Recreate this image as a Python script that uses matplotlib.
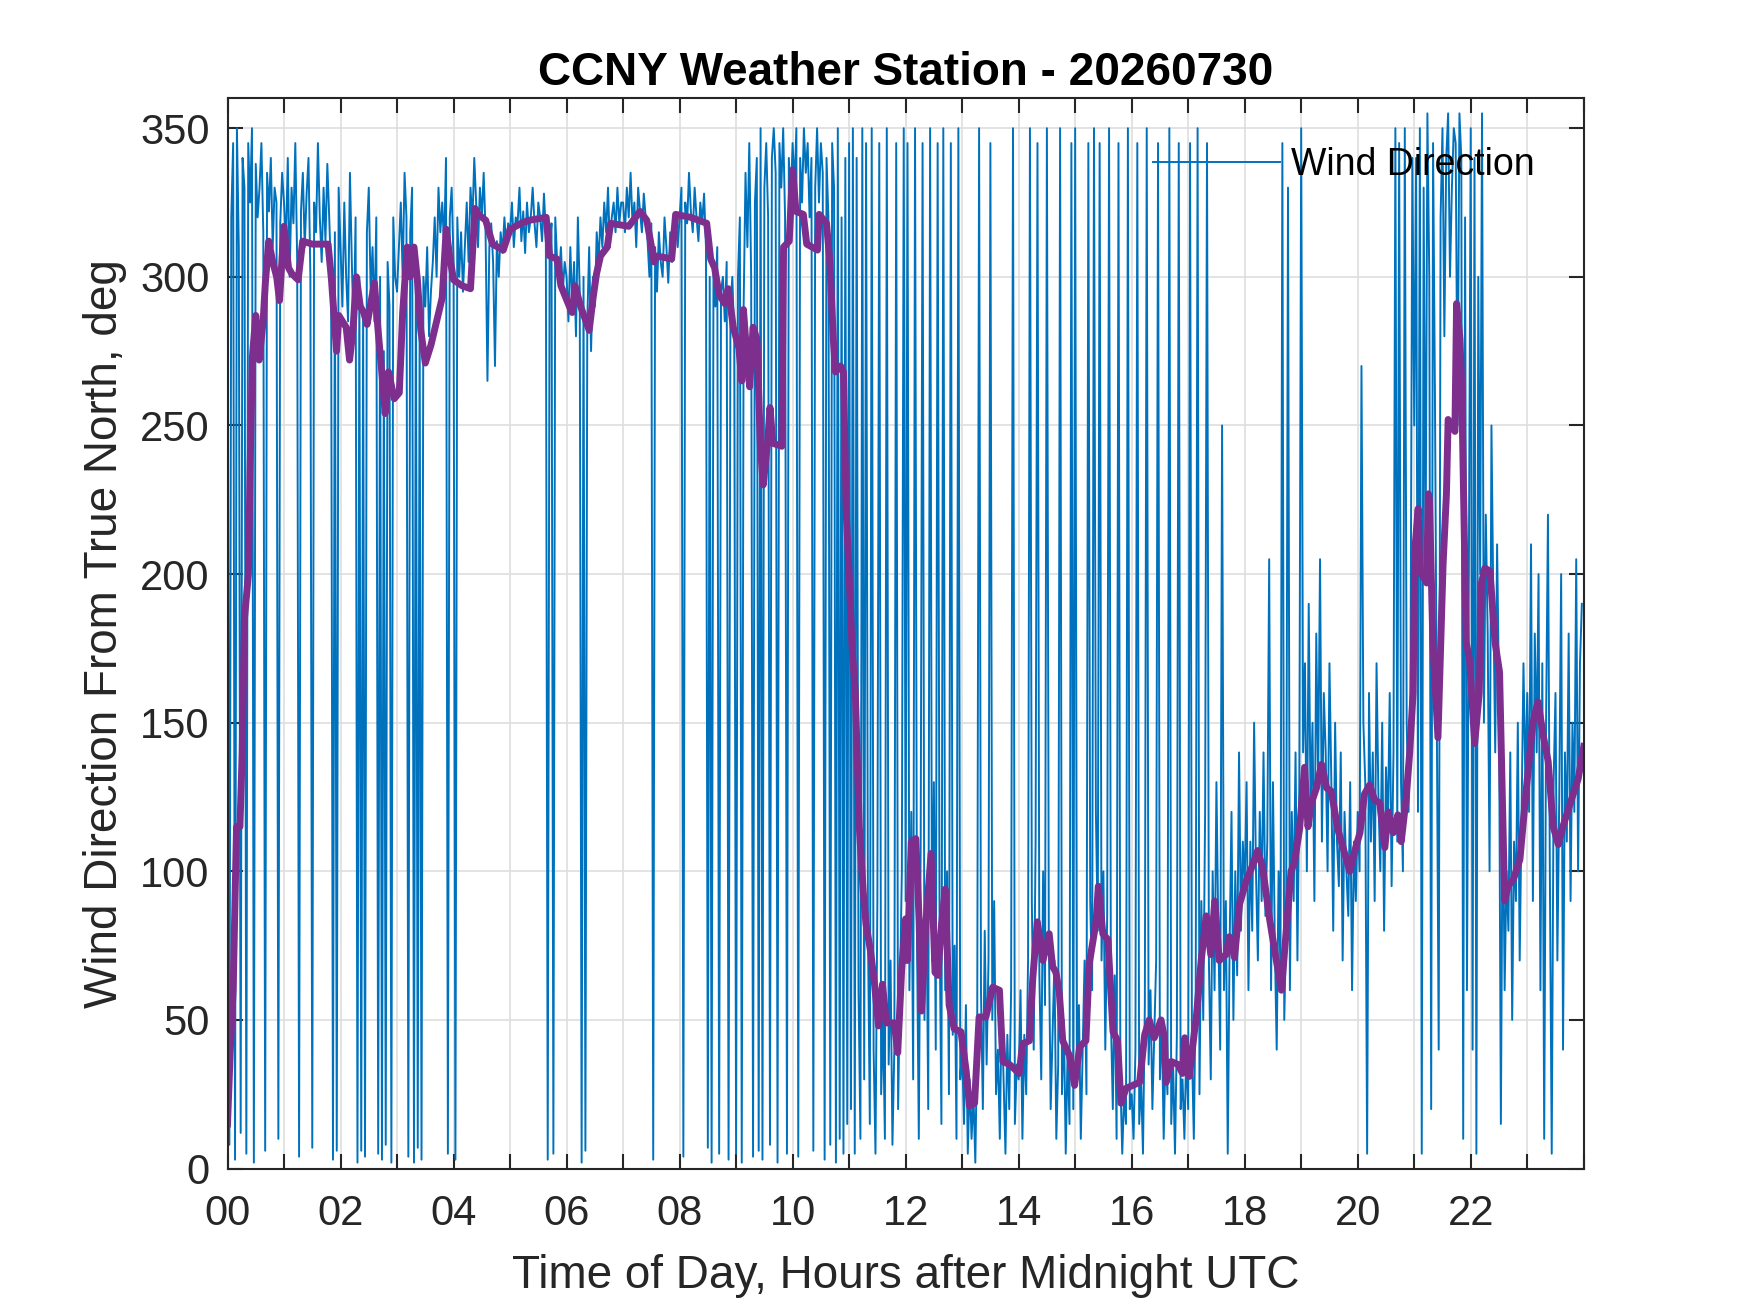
#Import necessary modules
import numpy as np
import matplotlib
matplotlib.use('Agg')
import matplotlib.pyplot as plt

plt.rcParams['font.family'] = ['Liberation Sans', 'DejaVu Sans']

#Wind direction samples, every 2 minutes (one line per hour, 00 to 23)
wind_dir = [
    335, 8, 320, 345, 3, 350, 310, 12, 340, 330, 5, 345, 325, 350, 2, 338, 320, 330, 345, 315, 6, 335, 322, 340, 310, 330, 325, 10, 318, 335,
    325, 310, 340, 300, 330, 318, 345, 305, 4, 322, 335, 310, 328, 340, 300, 7, 325, 315, 345, 320, 305, 330, 312, 338, 320, 300, 3, 315, 6, 330,
    310, 290, 325, 300, 285, 335, 305, 280, 320, 2, 300, 6, 290, 4, 315, 330, 295, 310, 285, 320, 5, 300, 3, 275, 8, 305, 290, 2, 320, 300,
    295, 310, 325, 300, 335, 320, 4, 315, 330, 2, 305, 7, 285, 3, 300, 290, 310, 280, 295, 305, 320, 300, 330, 315, 325, 310, 340, 5, 320, 330,
    305, 3, 320, 300, 315, 295, 310, 325, 305, 330, 318, 340, 325, 310, 330, 320, 335, 315, 265, 310, 318, 305, 270, 312, 300, 315, 308, 320, 310, 318,
    315, 325, 310, 320, 318, 330, 312, 322, 308, 325, 315, 320, 330, 318, 310, 325, 320, 312, 328, 315, 3, 310, 318, 5, 320, 305, 300, 310, 295, 305,
    300, 285, 310, 290, 305, 280, 320, 295, 2, 300, 6, 285, 310, 275, 300, 290, 315, 305, 320, 310, 325, 315, 330, 310, 320, 325, 315, 330, 318, 325,
    325, 315, 330, 320, 335, 318, 325, 310, 330, 322, 315, 328, 320, 312, 300, 318, 3, 310, 295, 315, 305, 300, 320, 310, 298, 315, 305, 312, 320, 310,
    320, 330, 4, 325, 318, 335, 322, 315, 330, 320, 312, 325, 318, 328, 310, 7, 300, 2, 305, 290, 310, 5, 295, 300, 285, 305, 3, 290, 300, 280,
    5, 300, 320, 2, 290, 335, 310, 345, 300, 4, 325, 340, 6, 350, 3, 330, 345, 320, 8, 340, 350, 335, 2, 345, 330, 350, 320, 5, 340, 325,
    345, 330, 350, 4, 340, 325, 350, 335, 345, 320, 340, 6, 330, 350, 325, 345, 335, 3, 340, 320, 8, 345, 330, 2, 350, 10, 320, 5, 340, 15,
    345, 20, 350, 5, 340, 60, 10, 350, 30, 345, 80, 15, 350, 40, 5, 90, 345, 25, 50, 10, 350, 35, 70, 8, 40, 345, 20, 60, 100, 350,
    90, 345, 60, 120, 30, 350, 80, 10, 110, 345, 50, 95, 20, 350, 70, 130, 40, 345, 85, 15, 350, 60, 100, 25, 345, 45, 75, 10, 350, 30,
    40, 15, 55, 5, 30, 10, 25, 2, 45, 350, 60, 20, 80, 35, 70, 345, 50, 90, 25, 40, 10, 55, 30, 5, 45, 20, 60, 350, 15, 35,
    30, 60, 10, 45, 25, 70, 350, 90, 40, 110, 345, 65, 30, 100, 55, 350, 80, 20, 45, 70, 10, 35, 350, 25, 50, 5, 40, 15, 345, 20,
    350, 30, 55, 10, 40, 70, 25, 345, 90, 60, 350, 120, 80, 345, 70, 100, 40, 85, 350, 50, 20, 65, 10, 345, 30, 5, 25, 15, 350, 20,
    25, 10, 40, 345, 15, 30, 5, 55, 350, 35, 60, 20, 45, 70, 345, 30, 50, 10, 40, 25, 350, 15, 35, 5, 45, 345, 20, 30, 10, 40,
    20, 345, 40, 10, 60, 350, 25, 90, 50, 120, 345, 70, 30, 100, 60, 130, 80, 40, 250, 60, 90, 5, 75, 120, 50, 100, 65, 140, 80, 110,
    95, 130, 60, 110, 80, 150, 100, 70, 120, 90, 140, 85, 110, 205, 60, 130, 75, 40, 100, 65, 345, 50, 80, 330, 60, 120, 90, 140, 70, 130,
    350, 140, 170, 100, 190, 120, 150, 90, 180, 130, 205, 110, 160, 140, 100, 170, 130, 80, 150, 110, 95, 140, 70, 120, 100, 85, 130, 60, 110, 90,
    120, 100, 270, 150, 130, 5, 160, 110, 140, 90, 170, 125, 100, 150, 80, 135, 115, 160, 95, 140, 350, 110, 345, 130, 100, 350, 150, 120, 160, 340,
    250, 340, 120, 350, 5, 330, 200, 355, 300, 20, 345, 260, 150, 40, 320, 350, 280, 340, 355, 300, 330, 350, 345, 250, 355, 340, 10, 320, 60, 200,
    350, 40, 340, 5, 300, 200, 355, 150, 220, 180, 100, 250, 190, 140, 210, 160, 15, 130, 60, 100, 80, 140, 50, 110, 90, 150, 70, 120, 170, 130,
    160, 120, 210, 90, 180, 140, 200, 60, 170, 10, 150, 220, 100, 5, 130, 160, 70, 125, 200, 40, 140, 110, 180, 90, 150, 120, 205, 100, 170, 190,
]

#Smoothed wind direction (purple line), hour and value pairs
avg_hour = [
    0.00, 0.05, 0.10, 0.16, 0.22, 0.26, 0.30, 0.37, 0.40, 0.44, 0.50, 0.56, 0.63, 0.67, 0.73, 0.80, 0.87, 0.92,
    1.00, 1.08, 1.14, 1.25, 1.33, 1.50, 1.78, 1.84, 1.93, 1.97,
    2.10, 2.16, 2.22, 2.28, 2.35, 2.41, 2.47, 2.60, 2.66, 2.73, 2.79, 2.85, 2.95,
    3.04, 3.10, 3.18, 3.23, 3.30, 3.36, 3.42, 3.50, 3.60, 3.70, 3.80, 3.87, 3.93,
    4.00, 4.15, 4.30, 4.38, 4.44, 4.57, 4.69, 4.88,
    5.00, 5.20, 5.33, 5.64, 5.70, 5.83, 5.90,
    6.05, 6.10, 6.15, 6.25, 6.40, 6.47, 6.53, 6.60, 6.72, 6.78,
    7.10, 7.30, 7.42, 7.55, 7.60, 7.86, 7.93,
    8.20, 8.48, 8.55, 8.62, 8.70, 8.80, 8.86, 8.95,
    9.05, 9.10, 9.13, 9.18, 9.24, 9.30, 9.37, 9.43, 9.48, 9.56, 9.60, 9.65, 9.81, 9.84, 9.94,
    10.00, 10.06, 10.19, 10.25, 10.44, 10.47, 10.60, 10.66, 10.72, 10.76, 10.85, 10.90, 10.95,
    11.00, 11.05, 11.11, 11.18, 11.25, 11.30, 11.38, 11.45, 11.52, 11.59, 11.66, 11.80, 11.86, 11.93,
    12.00, 12.03, 12.10, 12.18, 12.24, 12.28, 12.36, 12.45, 12.52, 12.57, 12.63, 12.70, 12.77, 12.86, 12.98,
    13.07, 13.13, 13.22, 13.30, 13.42, 13.54, 13.66, 13.72, 13.84,
    14.01, 14.07, 14.19, 14.25, 14.33, 14.43, 14.54, 14.60, 14.66, 14.72, 14.78, 14.90, 14.99,
    15.08, 15.19, 15.25, 15.37, 15.41, 15.49, 15.58, 15.67, 15.75, 15.81, 15.90,
    16.02, 16.14, 16.23, 16.31, 16.40, 16.52, 16.58, 16.61, 16.70, 16.82, 16.90, 16.94,
    17.02, 17.11, 17.14, 17.23, 17.32, 17.40, 17.47, 17.55, 17.67, 17.73, 17.82, 17.91,
    18.03, 18.14, 18.23, 18.32, 18.44, 18.56, 18.65, 18.73, 18.82, 18.88, 18.97,
    19.06, 19.12, 19.18, 19.27, 19.36, 19.45, 19.53, 19.65, 19.74, 19.86, 19.95,
    20.04, 20.12, 20.21, 20.30, 20.39, 20.48, 20.54, 20.63, 20.71, 20.77, 20.86, 20.92, 20.98,
    21.01, 21.07, 21.10, 21.22, 21.25, 21.27, 21.33, 21.42, 21.51, 21.57, 21.60, 21.72, 21.75, 21.81, 21.84, 21.92, 21.98,
    22.07, 22.15, 22.19, 22.25, 22.34, 22.43, 22.51, 22.60, 22.66, 22.75, 22.87, 22.99,
    23.10, 23.19, 23.28, 23.37, 23.46, 23.55, 23.63, 23.78, 23.90, 24.00,
]
avg_deg = [
    15, 40, 60, 115, 115, 140, 185, 200, 235, 273, 287, 272, 285, 298, 312, 305, 300, 292,
    317, 303, 301, 299, 312, 311, 311, 299, 275, 287,
    283, 272, 282, 300, 290, 288, 284, 298, 283, 268, 254, 268, 259,
    261, 288, 310, 300, 310, 299, 282, 271, 277, 285, 293, 316, 307,
    299, 297, 296, 323, 321, 319, 311, 309,
    316, 318, 319, 320, 307, 306, 297,
    290, 288, 297, 290, 282, 293, 301, 307, 310, 318,
    317, 322, 319, 305, 307, 306, 321,
    320, 318, 306, 303, 294, 291, 296, 283,
    276, 265, 289, 276, 263, 283, 279, 243, 230, 245, 256, 244, 243, 310, 312,
    336, 322, 321, 311, 309, 321, 318, 305, 279, 268, 270, 268, 220,
    200, 176, 160, 115, 93, 82, 73, 62, 48, 62, 49, 49, 39, 67,
    84, 70, 110, 111, 83, 53, 83, 106, 66, 65, 81, 94, 55, 47, 46,
    33, 21, 22, 51, 51, 61, 60, 36, 35,
    32, 42, 43, 64, 83, 70, 79, 68, 66, 59, 43, 38, 28,
    41, 43, 69, 83, 95, 79, 77, 46, 43, 22, 27,
    28, 29, 45, 50, 44, 50, 44, 29, 36, 35, 32, 44,
    31, 46, 50, 70, 85, 72, 90, 70, 72, 78, 71, 89,
    97, 102, 107, 101, 84, 70, 60, 79, 100, 103, 114,
    135, 115, 123, 128, 136, 128, 127, 114, 108, 100, 107,
    113, 126, 129, 124, 123, 108, 120, 113, 119, 110, 125, 140, 160,
    208, 222, 201, 197, 227, 225, 177, 145, 203, 227, 252, 248, 291, 279, 263, 177, 171,
    143, 160, 197, 202, 201, 177, 167, 90, 95, 97, 104, 129,
    150, 157, 146, 137, 115, 109, 115, 124, 131, 142,
]

#Time of each sample in hours after midnight
hours = np.arange(len(wind_dir)) / 30.0

#Creating the figure with MATLAB-like axes position
fig = plt.figure(figsize=(17.5, 13.13), dpi=100)
ax = fig.add_axes([0.13, 0.11, 0.775, 0.815])

ax.plot(hours, wind_dir, color='#0072BD', linewidth=1.4, label='Wind Direction')
ax.plot(avg_hour, avg_deg, color='#7E2F8E', linewidth=5)

ax.set_xlim(0, 24)
ax.set_ylim(0, 360)
ax.set_xticks(np.arange(0, 25, 1))
ax.set_xticklabels(['%02d' % h if (h % 2 == 0 and h < 24) else '' for h in range(25)])
ax.set_yticks(np.arange(0, 351, 50))

#Grid and box styling
ax.grid(True, color='#DEDEDE', linewidth=1.2)
ax.set_axisbelow(True)
for side in ax.spines.values():
    side.set_color('#262626')
    side.set_linewidth(1.5)
ax.tick_params(direction='in', length=11, width=1.5, colors='#262626',
               top=True, right=True, labelsize=30)
ax.tick_params(axis='x', pad=18)
ax.tick_params(axis='y', pad=13)

#Putting labels
ax.set_xlabel('Time of Day, Hours after Midnight UTC', fontsize=33, color='#262626', labelpad=15)
ax.set_ylabel('Wind Direction From True North, deg', fontsize=33, color='#262626', labelpad=9)
ax.set_title('CCNY Weather Station - 20260730', fontsize=33, fontweight='bold', pad=10)

ax.legend(loc='upper right', frameon=False, fontsize=27,
          handlelength=3.4, handletextpad=0.3, borderaxespad=0.9)

fig.savefig('out.png', dpi=100)
